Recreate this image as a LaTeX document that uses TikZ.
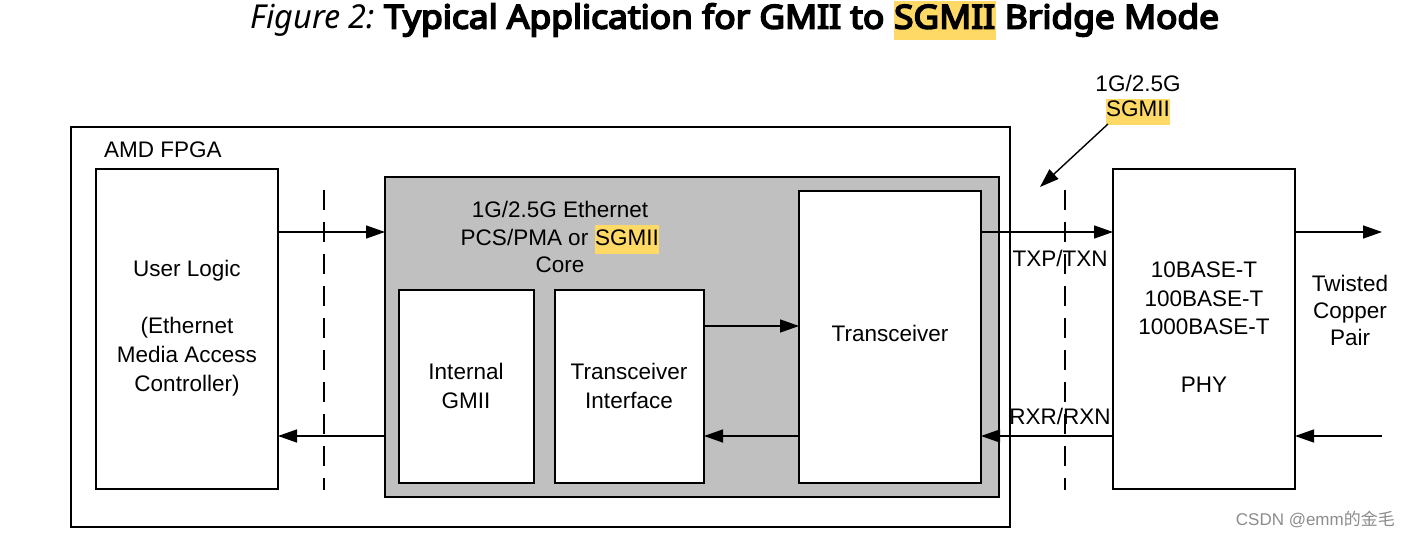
\documentclass[tikz,border=0pt]{standalone}
\usepackage{fontspec}
\setmainfont{Liberation Sans}
\newfontfamily\titleit{Noto Sans}
\newfontfamily\titlebf{Noto Sans}[FakeBold=5]
\newfontfamily\cjk{Noto Sans CJK SC}
\usetikzlibrary{arrows.meta}
\definecolor{hlc}{HTML}{FFD966}
\definecolor{coregrey}{HTML}{C0C0C0}
\newcommand{\hlt}[1]{{\setlength{\fboxsep}{0.5pt}\colorbox{hlc}{\strut #1}}}
\begin{document}
\begin{tikzpicture}[x=1pt,y=-1pt,
  box/.style={draw=black,line width=2.6pt,fill=white},
  txt/.style={font=\fontsize{22.5}{28.8}\selectfont,align=center,inner sep=0pt},
  sig/.style={line width=1.4pt,-{Triangle[length=19pt,width=13pt]}},
  bnd/.style={line width=2.2pt,dash pattern=on 20pt off 12pt}]
\useasboundingbox (0,0) rectangle (1410,537);
% title
\node[inner sep=0pt,font=\fontsize{33}{38}\selectfont] (title) at (735,21)
  {\scalebox{0.98}[1]{\titleit\itshape Figure 2:} \scalebox{1.07}[1]{\titlebf Typical Application for GMII to \hlt{SGMII} Bridge Mode}};
% outer fpga
\draw[line width=2.6pt] (71,127) rectangle (1010,527);
\node[txt,anchor=west] (fpga) at (104,150) {AMD FPGA};
% user logic
\draw[box] (96,169) rectangle (278,489);
\coordinate (ulr) at (278,232);
\coordinate (ulr2) at (278,436);
\node[txt] (ul) at (187,328) {User Logic\\ \\(Ethernet\\Media Access\\Controller)};
% core
\draw[line width=2.6pt,fill=coregrey] (385,177) rectangle (999,497);
\coordinate (corel) at (385,232);
\coordinate (corel2) at (385,436);
\node[txt,font=\fontsize{22.5}{27.5}\selectfont] (coret) at (560,237) {1G/2.5G Ethernet\\PCS/PMA or \hlt{SGMII}\\Core};
\draw[box] (399,290) rectangle (534,483);
\node[txt] (gmii) at (466,386) {Internal\\GMII};
\draw[box] (555,290) rectangle (704,483);
\node[txt] (tif) at (629,386) {Transceiver\\Interface};
\coordinate (tifr) at (704,326);
\coordinate (tifr2) at (704,436);
\draw[box] (799,191) rectangle (981,483);
\node[txt] (tr) at (890,333) {Transceiver};
\coordinate (trl) at (799,326);
\coordinate (trl2) at (799,436);
\coordinate (trr) at (981,232);
\coordinate (trr2) at (981,436);
% PHY
\draw[box] (1113,169) rectangle (1295,489);
\node[txt] (phy) at (1204,327) {10BASE-T\\100BASE-T\\1000BASE-T\\ \\PHY};
\coordinate (phyl) at (1113,232);
\coordinate (phyl2) at (1113,436);
\coordinate (phyr) at (1295,232);
\coordinate (phyr2) at (1295,436);
\coordinate (cuo) at (1382,232);
\coordinate (cui) at (1382,436);
\node[txt,font=\fontsize{22.5}{27}\selectfont] (tp) at (1350,310) {Twisted\\Copper\\Pair};
% boundaries
\coordinate (b1t) at (324,190);
\coordinate (b1b) at (324,490);
\draw[bnd] (b1t) -- (b1b);
\coordinate (b2t) at (1065,190);
\coordinate (b2b) at (1065,490);
\draw[bnd] (b2t) -- (b2b);
% signals
\draw[sig] (ulr) -- (corel);
\draw[sig] (corel2) -- (ulr2);
\draw[sig] (tifr) -- (trl);
\draw[sig] (trl2) -- (tifr2);
\draw[sig] (trr) -- (phyl);
\draw[sig] (phyl2) -- (trr2);
\draw[sig] (phyr) -- (cuo);
\draw[sig] (cui) -- (phyr2);
\node[txt] (txl) at (1060,258) {TXP/TXN};
\node[txt] (rxl) at (1060,416) {RXR/RXN};
% annotation
\node[txt,font=\fontsize{22.5}{25}\selectfont] (ann) at (1138,100) {1G/2.5G\\\hlt{SGMII}};
\coordinate (annp) at (1040,187);
\draw[line width=1.4pt,-{Triangle[length=19pt,width=13pt]}] (1108,124) -- (annp);
% watermark
\node[inner sep=0pt,anchor=east,text=black!45,font=\fontsize{17}{20}\selectfont] (wm) at (1395,519) {CSDN @emm{\cjk 的金毛}};
\end{tikzpicture}
\end{document}
